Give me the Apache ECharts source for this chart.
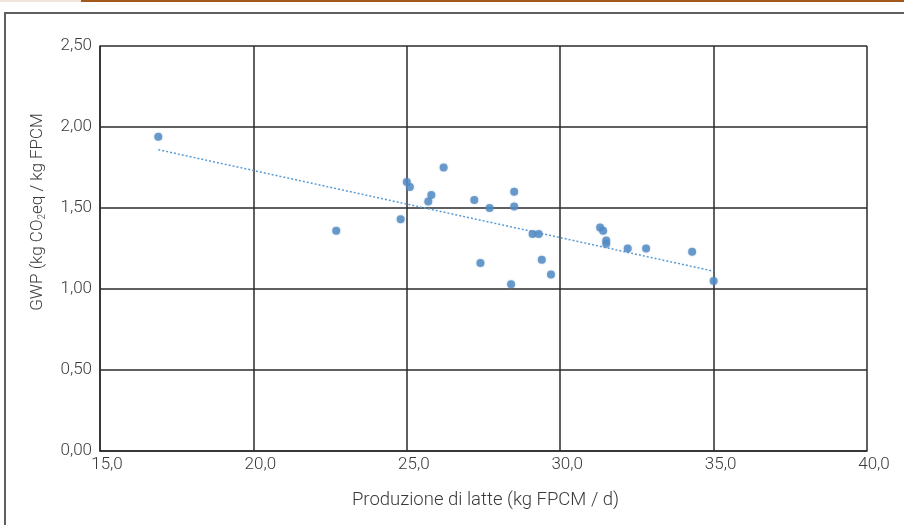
<!DOCTYPE html>
<html>
<head>
<meta charset="utf-8">
<script src="https://cdn.jsdelivr.net/npm/echarts@6/dist/echarts.min.js"></script>
<style>
  html, body { margin: 0; padding: 0; background: #fff; }
  #chart { width: 904px; height: 525px; }
</style>
</head>
<body>
<div id="chart"></div>
<script>
// produzione di latte (kg FPCM / d)
let milkYield = [16.9, 22.7, 25.0, 25.1, 26.2, 25.8, 25.7, 24.8, 27.2, 27.7, 28.5, 28.5,
  29.1, 29.3, 27.4, 29.4, 29.7, 28.4, 31.3, 31.4, 31.5, 31.5, 32.2, 32.8, 34.3, 35.0];
// GWP (kg CO2eq / kg FPCM)
let gwp = [1.94, 1.36, 1.66, 1.63, 1.75, 1.58, 1.54, 1.43, 1.55, 1.50, 1.60, 1.51,
  1.34, 1.34, 1.16, 1.18, 1.09, 1.03, 1.38, 1.36, 1.30, 1.28, 1.25, 1.25, 1.23, 1.05];
// linea di tendenza (estremi)
let trendX = [16.9, 35.0];
let trendY = [1.86, 1.11];

let xTicks = { min: 15, max: 40, step: 5 };
let yTicks = { min: 0, max: 2.5, step: 0.5 };

let points = milkYield.map((v, i) => [v, gwp[i]]);
let trend = trendX.map((v, i) => [v, trendY[i]]);

let fontFam = 'Roboto';
let txtColor = '#3a3a3a';
let gridColor = '#2b2b2b';

let chart = echarts.init(document.getElementById('chart'));

chart.setOption({
  animation: false,
  backgroundColor: '#fff',
  grid: { left: 100, right: 37, top: 46, bottom: 74 },
  xAxis: {
    type: 'value',
    min: xTicks.min, max: xTicks.max, interval: xTicks.step,
    name: 'Produzione di latte (kg FPCM / d)',
    nameLocation: 'middle',
    nameGap: 40,
    nameTextStyle: { fontFamily: fontFam, fontWeight: 300, fontSize: 18.5, color: txtColor, padding: [0, 0, 0, 4] },
    axisLine: { show: true, lineStyle: { color: gridColor, width: 1.5 } },
    axisTick: { show: false },
    axisLabel: {
      fontFamily: fontFam, fontWeight: 300, fontSize: 17, color: txtColor,
      margin: 5, padding: [0, 0, 0, 14],
      formatter: v => v.toFixed(1).replace('.', ',')
    },
    splitLine: { show: true, lineStyle: { color: gridColor, width: 1.5 } }
  },
  yAxis: {
    type: 'value',
    min: yTicks.min, max: yTicks.max, interval: yTicks.step,
    axisLine: { show: true, lineStyle: { color: gridColor, width: 1.5 } },
    axisTick: { show: false },
    axisLabel: {
      fontFamily: fontFam, fontWeight: 300, fontSize: 17, color: txtColor,
      margin: 8, padding: [0, 0, 4, 0],
      formatter: v => v.toFixed(2).replace('.', ',')
    },
    splitLine: { show: true, lineStyle: { color: gridColor, width: 1.5 } }
  },
  graphic: [
    { type: 'rect', left: 0, top: 0, shape: { width: 81, height: 2 }, style: { fill: '#f1e6d9' } },
    { type: 'rect', left: 81, top: 0, shape: { width: 823, height: 2 }, style: { fill: '#a3581c' } },
    { type: 'polyline', shape: { points: [[5, 525], [5, 13], [904, 13]] },
      style: { stroke: '#5f5f5f', lineWidth: 2, fill: null } },
    {
      type: 'text', x: 38, y: 212, rotation: Math.PI / 2,
      style: {
        text: 'GWP (kg CO{sub|2}eq / kg FPCM',
        fontFamily: fontFam, fontWeight: 300, fontSize: 17, fill: txtColor,
        align: 'center', verticalAlign: 'middle',
        rich: { sub: { fontFamily: fontFam, fontWeight: 300, fontSize: 10, fill: txtColor, verticalAlign: 'bottom', padding: [8, 0, 0, 0] } }
      }
    }
  ],
  series: [
    {
      type: 'line',
      data: trend,
      symbol: 'none',
      lineStyle: { color: '#5b9bd5', width: 1.5, type: [2, 2] },
      silent: true,
      z: 2
    },
    {
      type: 'scatter',
      data: points,
      symbolSize: 8,
      itemStyle: { color: '#5189c3', shadowBlur: 2, shadowColor: 'rgba(81,137,195,0.5)' },
      z: 3
    }
  ]
});
</script>
</body>
</html>
